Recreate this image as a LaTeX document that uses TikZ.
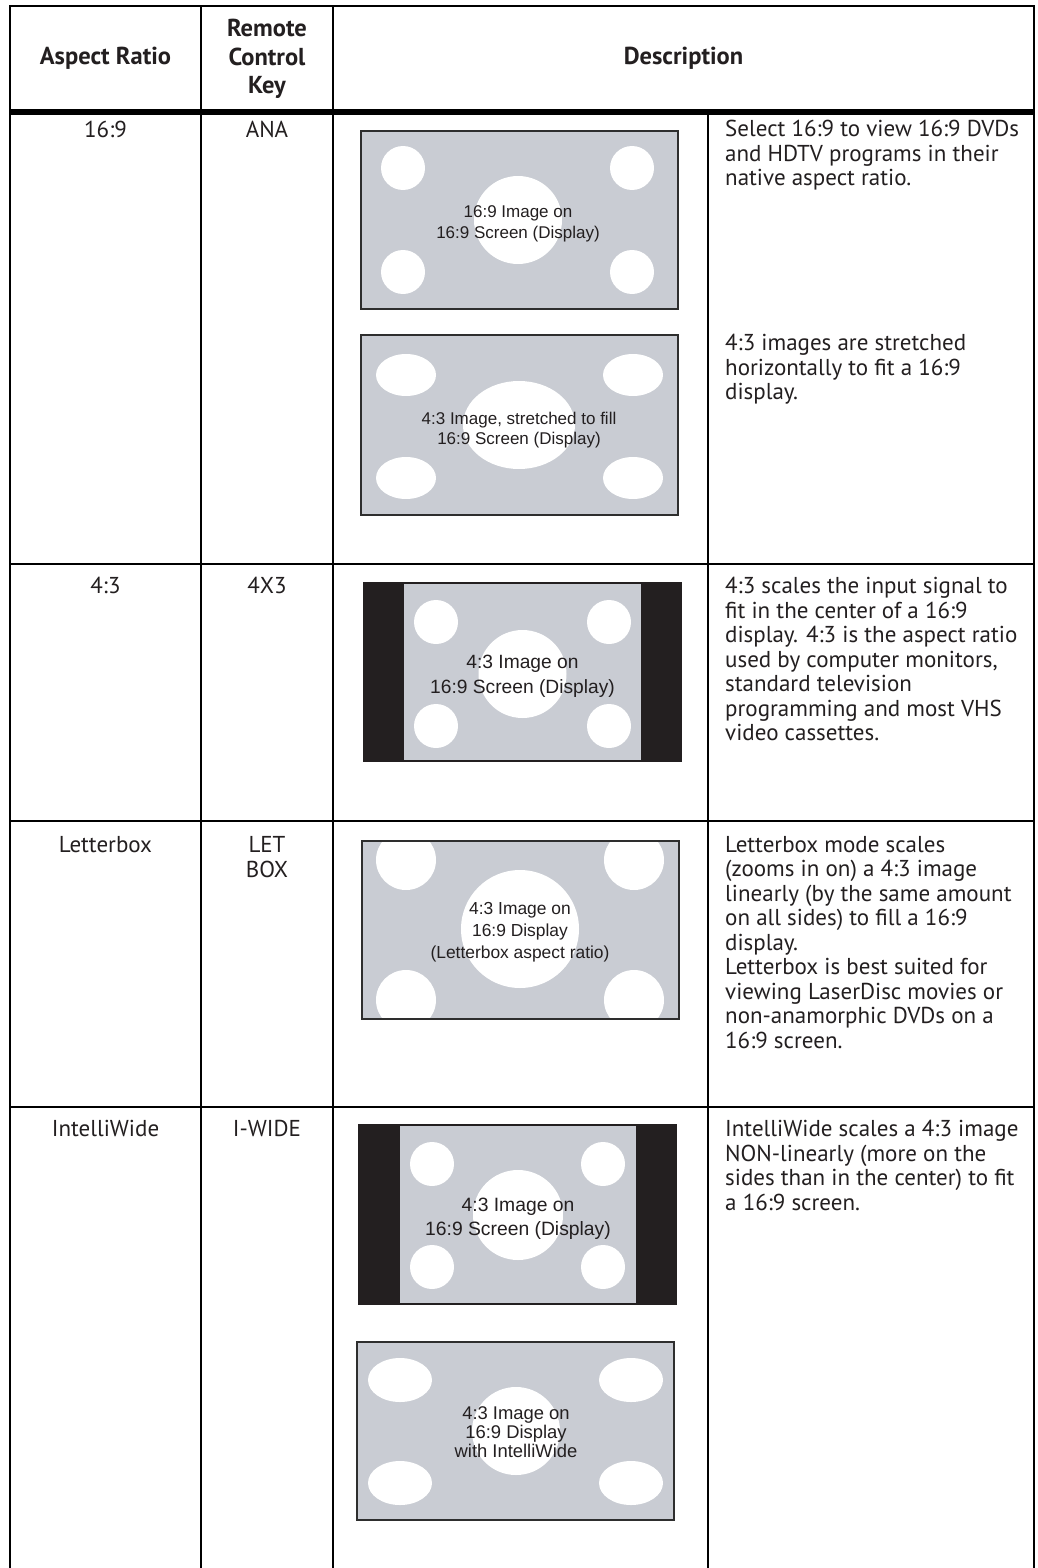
\documentclass[tikz,border=0pt]{standalone}
\usepackage{fontspec}
\setmainfont{PT Sans}
\newfontfamily\labfont{Liberation Sans}
\definecolor{scrgray}{HTML}{C9CCD3}
\definecolor{scrline}{HTML}{2E2E2E}
\definecolor{barblack}{HTML}{231F20}
\definecolor{ink}{HTML}{231F20}
\newcommand\bodyfont{\fontsize{23}{24.5}\selectfont}
\newcommand\headfont{\fontsize{24.5}{28.5}\selectfont\bfseries}
\newcommand\labsize[2]{\labfont\fontsize{#1}{#2}\selectfont}
\tikzset{
  tabline/.style={line width=1.3pt, draw=black},
  headline/.style={line width=6pt, draw=black},
  screen/.style={fill=scrgray},
  frame/.style={draw=scrline, line width=2.2pt},
  hole/.style={fill=white},
  bars/.style={fill=barblack},
  hdr/.style={font=\headfont, text=ink, align=center, inner sep=0pt},
  cellt/.style={font=\bodyfont, text=ink, align=center, inner sep=0pt, anchor=base},
  desc/.style={font=\bodyfont, text=ink, align=left, inner sep=0pt, anchor=north west},
  lab/.style={text=ink, align=center, inner sep=0pt},
}
\begin{document}
\begin{tikzpicture}[x=1pt,y=-1pt]
\useasboundingbox (0,0) rectangle (1037,1568);
\fill[white] (0,0) rectangle (1037,1568);

% ---------- table rules ----------
\foreach \cx in {10,201,333,1034} \draw[tabline] (\cx,6) -- (\cx,1568);
\draw[tabline] (708,112) -- (708,1568);
\draw[tabline] (9.35,6) -- (1034.65,6);
\draw[headline] (10,112) -- (1034,112);
\foreach \ry in {564,821,1107} \draw[tabline] (10,\ry) -- (1034,\ry);

% ---------- header ----------
\node[hdr, anchor=base] (hAR) at (105.5,65) {Aspect Ratio};
\node[hdr] (hRC) at (267,59) {Remote\\Control\\Key};
\node[hdr, anchor=base] (hD) at (683.5,65) {Description};

% ---------- first two columns ----------
\node[cellt] (r1a) at (105.5,137) {16:9};
\node[cellt] (r1k) at (267,137) {ANA};
\node[cellt] (r2a) at (105.5,593) {4:3};
\node[cellt] (r2k) at (267,593) {4X3};
\node[cellt] (r3a) at (105.5,852) {Letterbox};
\node[cellt, anchor=north] (r3k) at (267,836.5) {LET\\BOX};
\node[cellt] (r4a) at (105.5,1136) {IntelliWide};
\node[cellt] (r4k) at (267,1136) {I-WIDE};

% ---------- descriptions ----------
\node[desc] (d1) at (725,120) {Select 16:9 to view 16:9 DVDs\\and HDTV programs in their\\native aspect ratio.};
\node[desc] (d1b) at (725,334) {4:3 images are stretched\\horizontally to fit a 16:9\\display.};
\node[desc] (d2) at (725,577) {4:3 scales the input signal to\\fit in the center of a 16:9\\display. 4:3 is the aspect ratio\\used by computer monitors,\\standard television\\programming and most VHS\\video cassettes.};
\node[desc] (d3) at (725,836) {Letterbox mode scales\\(zooms in on) a 4:3 image\\linearly (by the same amount\\on all sides) to fill a 16:9\\display.\\Letterbox is best suited for\\viewing LaserDisc movies or\\non-anamorphic DVDs on a\\16:9 screen.};
\node[desc] (d4) at (725,1120) {IntelliWide scales a 4:3 image\\NON-linearly (more on the\\sides than in the center) to fit\\a 16:9 screen.};

% ---------- screen 1: 16:9 on 16:9 ----------
\fill[screen] (361,131) rectangle (678,309);
\foreach \x/\y in {403/168,632/168,403/272,632/272} \fill[hole] (\x,\y) circle (22pt);
\fill[hole] (518,220) circle (44pt);
\draw[frame] (361,131) rectangle (678,309);
\node[lab, font=\labsize{17}{21}] (s1) at (518,223.5) {16:9 Image on\\16:9 Screen (Display)};

% ---------- screen 2: 4:3 stretched ----------
\fill[screen] (361,335) rectangle (678,515);
\foreach \x/\y in {406/375,633/375,406/478,633/478} \fill[hole] (\x,\y) ellipse [x radius=30pt, y radius=21pt];
\fill[hole] (519,425) ellipse [x radius=56pt, y radius=44pt];
\draw[frame] (361,335) rectangle (678,515);
\node[lab, font=\labsize{17}{20}] (s2) at (519,430) {4:3 Image, stretched to fill\\16:9 Screen (Display)};

% ---------- screen 3: 4:3 pillarbox ----------
\fill[bars] (363,582) rectangle (682,762);
\fill[screen] (404,584) rectangle (641,760);
\foreach \x/\y in {436/622,609/622,436/726,609/726} \fill[hole] (\x,\y) circle (22pt);
\fill[hole] (522.5,674) circle (44pt);
\node[lab, font=\labsize{19.2}{25}] (s3) at (522.5,676.5) {4:3 Image on\\16:9 Screen (Display)};

% ---------- screen 4: letterbox ----------
\begin{scope}
\clip (362,841) rectangle (679,1019);
\fill[screen] (362,841) rectangle (679,1019);
\foreach \x/\y in {406/860,634/860,406/1000,634/1000} \fill[hole] (\x,\y) circle (30pt);
\fill[hole] (520,929) circle (59pt);
\end{scope}
\draw[draw=scrline, line width=1.5pt] (362,841) rectangle (679,1019);
\node[lab, font=\labsize{17.4}{22}] (s4) at (520,932) {4:3 Image on\\16:9 Display\\(Letterbox aspect ratio)};

% ---------- screen 5: IntelliWide pillarbox ----------
\fill[bars] (358,1124) rectangle (677,1305);
\fill[screen] (400,1126) rectangle (636,1303);
\foreach \x/\y in {432/1164,603/1164,432/1267,603/1267} \fill[hole] (\x,\y) circle (22pt);
\fill[hole] (518,1215) circle (45pt);
\node[lab, font=\labsize{19.3}{24}] (s5) at (518,1219) {4:3 Image on\\16:9 Screen (Display)};

% ---------- screen 6: IntelliWide ----------
\fill[screen] (357,1342) rectangle (674,1520);
\foreach \x/\y in {400/1380,631/1380,400/1483,631/1483} \fill[hole] (\x,\y) ellipse [x radius=32pt, y radius=22pt];
\fill[hole] (516,1431) circle (44pt);
\draw[frame] (357,1342) rectangle (674,1520);
\node[lab, font=\labsize{18.4}{19}] (s6) at (516,1432) {4:3 Image on\\16:9 Display\\with IntelliWide};
\end{tikzpicture}
\end{document}
